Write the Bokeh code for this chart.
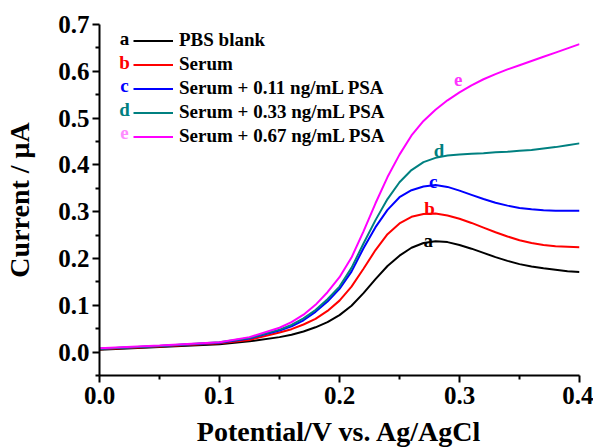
from bokeh.plotting import figure
from bokeh.models import (Range1d, FixedTicker, NumeralTickFormatter, Legend, LegendItem, Label)
from bokeh.embed import file_html
from bokeh.resources import INLINE

# ---------------- data ----------------
potential = [0.0, 0.05, 0.1, 0.125, 0.15, 0.16, 0.17, 0.18, 0.19, 0.2, 0.21, 0.22, 0.23, 0.24,
             0.25, 0.26, 0.27, 0.28, 0.29, 0.3, 0.31, 0.32, 0.33, 0.34, 0.35, 0.36, 0.37,
             0.38, 0.39, 0.4]

pbs_blank = [0.005, 0.011, 0.017, 0.023, 0.032, 0.037, 0.044, 0.053, 0.064, 0.079, 0.099,
             0.126, 0.156, 0.184, 0.206, 0.223, 0.233, 0.237, 0.235, 0.229, 0.221, 0.212,
             0.203, 0.195, 0.188, 0.183, 0.179, 0.176, 0.173, 0.171]
serum = [0.006, 0.012, 0.019, 0.026, 0.042, 0.049, 0.059, 0.071, 0.088, 0.110, 0.140,
         0.178, 0.218, 0.252, 0.275, 0.289, 0.295, 0.296, 0.292, 0.285, 0.276, 0.266,
         0.256, 0.247, 0.239, 0.233, 0.229, 0.226, 0.225, 0.224]
serum_011 = [0.007, 0.013, 0.020, 0.029, 0.046, 0.055, 0.068, 0.086, 0.108, 0.135, 0.172,
             0.222, 0.267, 0.304, 0.331, 0.346, 0.354, 0.357, 0.353, 0.345, 0.336, 0.327,
             0.319, 0.313, 0.308, 0.305, 0.303, 0.302, 0.302, 0.302]
serum_033 = [0.007, 0.013, 0.021, 0.030, 0.048, 0.058, 0.072, 0.090, 0.113, 0.140, 0.180,
             0.232, 0.282, 0.327, 0.363, 0.389, 0.406, 0.415, 0.420, 0.422, 0.424, 0.425,
             0.427, 0.428, 0.430, 0.432, 0.435, 0.438, 0.442, 0.446]
serum_067 = [0.008, 0.014, 0.021, 0.032, 0.052, 0.064, 0.080, 0.101, 0.128, 0.160, 0.202,
             0.258, 0.318, 0.374, 0.422, 0.463, 0.494, 0.518, 0.538, 0.555, 0.570, 0.583,
             0.594, 0.604, 0.613, 0.622, 0.631, 0.640, 0.649, 0.658]

series_names = ["PBS blank", "Serum", "Serum + 0.11 ng/mL PSA",
                "Serum + 0.33 ng/mL PSA", "Serum + 0.67 ng/mL PSA"]
series_letters = ["a", "b", "c", "d", "e"]
series_values = [pbs_blank, serum, serum_011, serum_033, serum_067]

x_ticks = [0.0, 0.1, 0.2, 0.3, 0.4]
y_ticks = [0.0, 0.1, 0.2, 0.3, 0.4, 0.5, 0.6, 0.7]

# ---------------- style ----------------
colors = ["#000000", "#FF0000", "#0000FF", "#008080", "#FF00FF"]
legend_letter_colors = ["#000000", "#FF0000", "#0000FF", "#008080", "#FF8CFF"]
curve_label_colors = ["#000000", "#FF0000", "#0000FF", "#008080", "#FF33FF"]
curve_label_pos = [(0.274, 0.239), (0.275, 0.307), (0.278, 0.364), (0.283, 0.431), (0.299, 0.582)]
FONT = "Liberation Serif"

p = figure(width=593, height=448, output_backend="svg", toolbar_location=None,
           x_range=Range1d(0.0, 0.4), y_range=Range1d(-0.05, 0.7),
           frame_width=480, frame_height=351,
           min_border_left=99, min_border_right=14, min_border_top=24, min_border_bottom=73)
p.outline_line_color = None
p.xgrid.visible = False
p.ygrid.visible = False
p.background_fill_color = "white"
p.border_fill_color = "white"

renderers = []
for vals, c in zip(series_values, colors):
    r = p.line(potential, vals, line_color=c, line_width=2)
    renderers.append(r)

for ax in (p.xaxis[0], p.yaxis[0]):
    ax.axis_line_width = 2
    ax.major_tick_line_width = 2
    ax.minor_tick_line_width = 2
    ax.major_tick_in = 0
    ax.major_tick_out = 7
    ax.minor_tick_in = 0
    ax.minor_tick_out = 4
    ax.major_label_text_font = FONT
    ax.major_label_text_font_style = "bold"
    ax.major_label_text_font_size = "25px"
    ax.major_label_text_color = "black"
    ax.axis_label_text_font = FONT
    ax.axis_label_text_font_style = "bold"
    ax.axis_label_text_font_size = "28px"
    ax.axis_label_text_color = "black"
    ax.formatter = NumeralTickFormatter(format="0.0")

p.xaxis[0].ticker = FixedTicker(ticks=x_ticks, minor_ticks=[0.05, 0.15, 0.25, 0.35])
p.yaxis[0].ticker = FixedTicker(ticks=y_ticks,
                                minor_ticks=[-0.05, 0.05, 0.15, 0.25, 0.35, 0.45, 0.55, 0.65])
p.xaxis[0].axis_label = "Potential/V vs. Ag/AgCl"
p.yaxis[0].axis_label = "Current / μA"
p.xaxis[0].major_label_standoff = 4
p.yaxis[0].major_label_standoff = 3
p.xaxis[0].axis_label_standoff = 9
p.yaxis[0].axis_label_standoff = 20

items = [LegendItem(label=n, renderers=[r]) for n, r in zip(series_names, renderers)]
legend = Legend(items=items, location=(34, 228), padding=0, margin=0,
                border_line_color=None, background_fill_alpha=0,
                glyph_width=40, glyph_height=21, label_height=21, spacing=2,
                label_standoff=6, label_text_font=FONT, label_text_font_style="bold",
                label_text_font_size="19px", label_text_color="black")
p.add_layout(legend)

for i, (letter, c) in enumerate(zip(series_letters, legend_letter_colors)):
    p.add_layout(Label(x=25, y=351 - 14 - 23.5 * i, x_units="screen", y_units="screen",
                       text=letter, text_color=c, text_font=FONT, text_font_style="bold",
                       text_font_size="19px", text_align="center", text_baseline="middle"))

for letter, c, (lx, ly) in zip(series_letters, curve_label_colors, curve_label_pos):
    p.add_layout(Label(x=lx, y=ly, text=letter, text_color=c, text_font=FONT,
                       text_font_style="bold", text_font_size="19px",
                       text_align="center", text_baseline="alphabetic"))

open("out.html", "w").write(file_html(p, INLINE))
